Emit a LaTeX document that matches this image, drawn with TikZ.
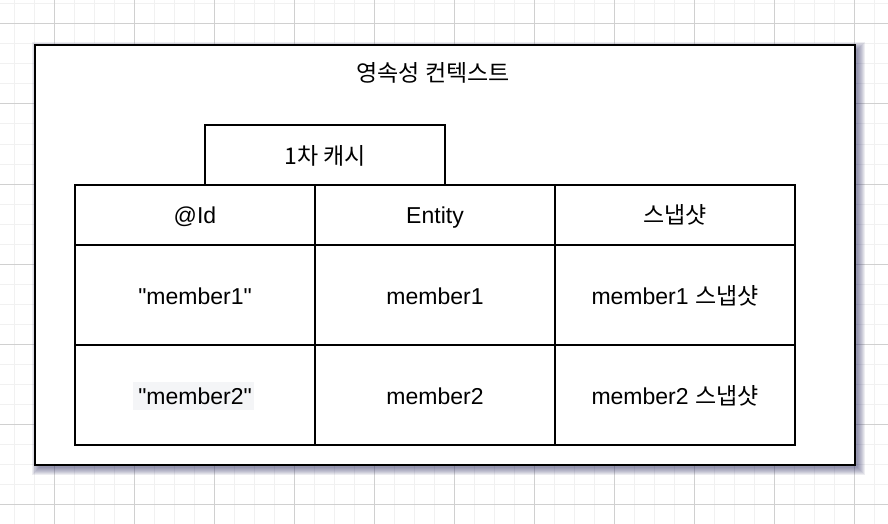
\documentclass[tikz,border=0pt]{standalone}
\usepackage{fontspec}
\setmainfont{Liberation Sans}[Ligatures=TeXOff]
\newfontfamily\kr{Noto Sans CJK KR}
\definecolor{minorgrid}{RGB}{241,241,241}
\definecolor{majorgrid}{RGB}{208,208,208}
\definecolor{shadowc}{RGB}{60,60,110}
\definecolor{hilite}{RGB}{244,245,247}
\begin{document}
\begin{tikzpicture}[x=1pt,y=-1pt,
  every node/.style={font=\fontsize{23}{27}\selectfont, text height=16.5pt, text depth=0pt},
  box/.style={draw=black, line width=2pt, fill=white, inner sep=0pt},
  cell/.style={draw=black, line width=2pt, inner sep=0pt, minimum width=240pt},
  headcell/.style={cell, minimum height=60pt},
  bodycell/.style={cell, minimum height=100pt, text height=19pt},
  plain/.style={inner sep=0pt}]
\useasboundingbox (0,0) rectangle (888,524);
\fill[white] (0,0) rectangle (888,524);
% grid
\foreach \x in {14,34,...,888} \draw[minorgrid, line width=1pt] (\x,0) -- (\x,524);
\foreach \y in {4,24,...,524} \draw[minorgrid, line width=1pt] (0,\y) -- (888,\y);
\foreach \x in {54,134,...,888} \draw[majorgrid, line width=1pt] (\x,0) -- (\x,524);
\foreach \y in {24,104,...,524} \draw[majorgrid, line width=1pt] (0,\y) -- (888,\y);
% shadow
\foreach \i in {0,1,...,7}
  \fill[shadowc, opacity=0.09] (35+4-\i,45+4-\i) rectangle (855+3+\i,465+3+\i);
% outer context box
\node[box, minimum width=820pt, minimum height=420pt] (ctx) at (445,255) {};
\node[plain] (title) at (433,73) {\kr 영속성 컨텍스트};
% first-level cache tab
\node[cell, minimum height=60pt, text height=18.5pt] (cache) at (325,155) {\kr 1차 캐시};
% highlight behind "member2"
\fill[hilite] (133,382) rectangle (254,410);
% table
\node[headcell] (h1) at (195,215) {@Id};
\node[headcell] (h2) at (435,215) {Entity};
\node[headcell] (h3) at (675,215) {\kr 스냅샷};
\node[bodycell] (a1) at (195,295) {"member1"};
\node[bodycell] (a2) at (435,295) {member1};
\node[bodycell] (a3) at (675,295) {member1 {\kr 스냅샷}};
\node[bodycell] (b1) at (195,395) {"member2"};
\node[bodycell] (b2) at (435,395) {member2};
\node[bodycell] (b3) at (675,395) {member2 {\kr 스냅샷}};
\end{tikzpicture}
\end{document}
